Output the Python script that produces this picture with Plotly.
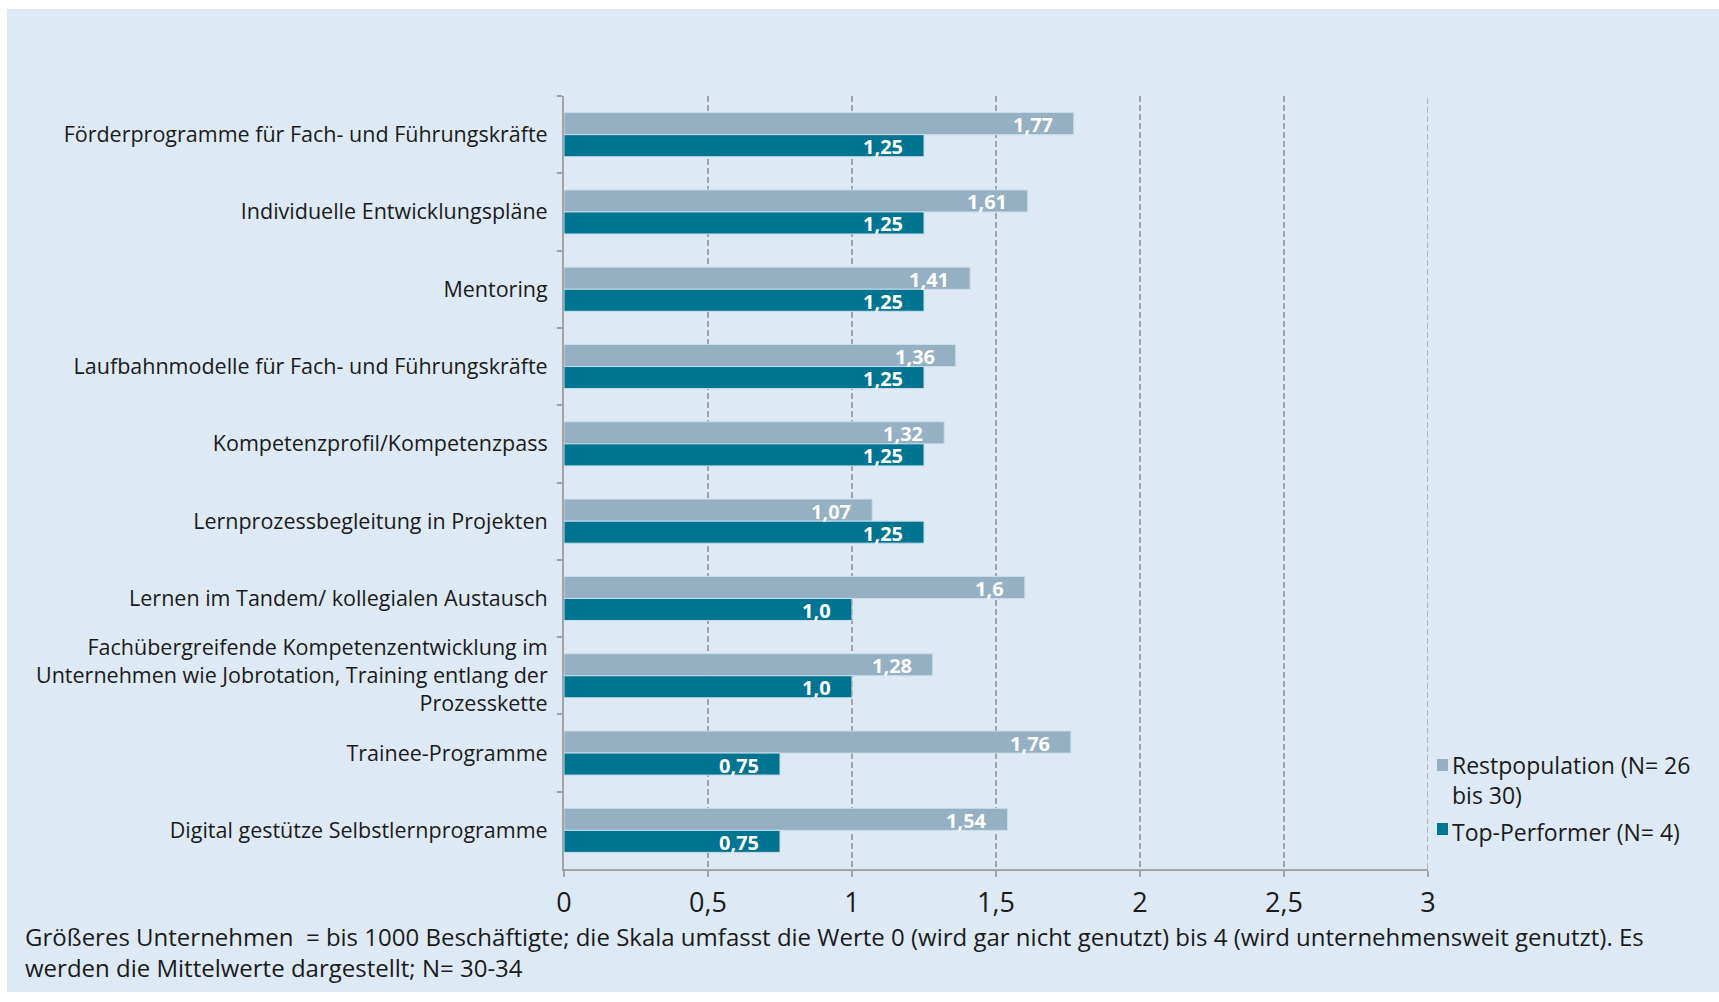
import plotly.graph_objects as go

# Maßnahmen der Kompetenzentwicklung (von oben nach unten)
categories = [
    "Förderprogramme für Fach- und Führungskräfte",
    "Individuelle Entwicklungspläne",
    "Mentoring",
    "Laufbahnmodelle für Fach- und Führungskräfte",
    "Kompetenzprofil/Kompetenzpass",
    "Lernprozessbegleitung in Projekten",
    "Lernen im Tandem/ kollegialen Austausch",
    "Fachübergreifende Kompetenzentwicklung im<br>Unternehmen wie Jobrotation, Training entlang der<br>Prozesskette",
    "Trainee-Programme",
    "Digital gestütze Selbstlernprogramme",
]

rest_values = [1.77, 1.61, 1.41, 1.36, 1.32, 1.07, 1.6, 1.28, 1.76, 1.54]
top_values = [1.25, 1.25, 1.25, 1.25, 1.25, 1.25, 1.0, 1.0, 0.75, 0.75]

rest_name = "Restpopulation (N= 26<br>bis 30)"
top_name = "Top-Performer (N= 4)"

x_ticks = [0, 0.5, 1, 1.5, 2, 2.5, 3]
x_ticklabels = ["0", "0,5", "1", "1,5", "2", "2,5", "3"]

footnote = (
    "Größeres Unternehmen\u00a0 = bis 1000 Beschäftigte; die Skala umfasst die Werte 0 "
    "(wird gar nicht genutzt) bis 4 (wird unternehmensweit genutzt). Es<br>"
    "werden die Mittelwerte dargestellt; N= 30-34"
)

# Farben und Schrift
BG = "#ddeaf5"
GREY = "#95b0c2"
TEAL = "#007592"
EDGE = "#c9dcea"
AXIS = "#a3a3a3"
TEXT = "#1a1a1a"
FONT = "Open Sans"

W, H = 1719, 1002
L, R, T, B = 564, 291, 96, 133
PW, PH = W - L - R, H - T - B


def px_x(p):
    """Pixel column -> paper x."""
    return (p - L) / PW


def px_y(p):
    """Pixel row -> paper y."""
    return (H - B - p) / PH


def fmt(v):
    return str(v).replace(".", ",")


fig = go.Figure()
fig.add_trace(go.Bar(
    y=categories, x=rest_values, orientation="h", name=rest_name,
    marker=dict(color=GREY, line=dict(color=EDGE, width=1)),
    showlegend=False, hoverinfo="skip",
))
fig.add_trace(go.Bar(
    y=categories, x=top_values, orientation="h", name=top_name,
    marker=dict(color=TEAL, line=dict(color=EDGE, width=1)),
    showlegend=False, hoverinfo="skip",
))

# Werte-Beschriftungen am Balkenende
annotations = []
label_font = dict(family=FONT, size=20, color="white", weight="bold")
for cat, v in zip(categories, rest_values):
    annotations.append(dict(
        x=v, y=cat, xref="x", yref="y", text=fmt(v), showarrow=False,
        xanchor="right", yanchor="middle", xshift=-19, yshift=10,
        font=label_font,
    ))
for cat, v in zip(categories, top_values):
    annotations.append(dict(
        x=v, y=cat, xref="x", yref="y", text=fmt(v), showarrow=False,
        xanchor="right", yanchor="middle", xshift=-19, yshift=-12,
        font=label_font,
    ))


def text_block(text, px, py, size):
    return dict(
        x=px_x(px), y=px_y(py), xref="paper", yref="paper", text=text,
        showarrow=False, xanchor="left", yanchor="middle", align="left",
        font=dict(family=FONT, size=size, color=TEXT),
    )


# Legende
annotations.append(text_block(rest_name, 1450, 780, 23))
annotations.append(text_block(top_name, 1450, 832, 23))

# Fußnote
annotations.append(text_block(footnote, 23, 952, 24))

shapes = [
    # Hintergrundfläche
    dict(type="rect", xref="paper", yref="paper", layer="below",
         x0=px_x(7), x1=px_x(W + 5), y0=px_y(992), y1=px_y(9),
         fillcolor=BG, line=dict(width=0)),
    # Gitterlinie am rechten Skalenende
    dict(type="line", xref="x", yref="paper", layer="below",
         x0=x_ticks[-1], x1=x_ticks[-1], y0=0, y1=1,
         line=dict(color=AXIS, width=1.5, dash="6px,3px")),
    # Legenden-Symbole
    dict(type="rect", xref="paper", yref="paper",
         x0=px_x(1437), x1=px_x(1448), y0=px_y(771), y1=px_y(759),
         fillcolor=GREY, line=dict(width=0)),
    dict(type="rect", xref="paper", yref="paper",
         x0=px_x(1437), x1=px_x(1448), y0=px_y(835), y1=px_y(823),
         fillcolor=TEAL, line=dict(width=0)),
]

fig.update_layout(
    template="none",
    width=W, height=H,
    margin=dict(l=L, r=R, t=T, b=B, autoexpand=False),
    paper_bgcolor="white",
    plot_bgcolor="rgba(0,0,0,0)",
    barmode="group",
    bargap=0.43,
    bargroupgap=0,
    font=dict(family=FONT, color=TEXT),
    annotations=annotations,
    shapes=shapes,
    showlegend=False,
)

fig.update_xaxes(
    range=[0, 3], tickvals=x_ticks, ticktext=x_ticklabels,
    showgrid=True, gridcolor=AXIS, gridwidth=1.5, griddash="6px,3px",
    zeroline=False, showline=True, linecolor=AXIS, linewidth=2,
    ticks="outside", ticklen=6, tickcolor=AXIS, tickwidth=1.5,
    tickfont=dict(family=FONT, size=27, color=TEXT),
    ticklabelstandoff=3, automargin=False,
)
fig.update_yaxes(
    autorange="reversed", type="category",
    showgrid=False, zeroline=False, showline=True, linecolor=AXIS, linewidth=2,
    ticks="outside", tickson="boundaries", ticklen=5, tickcolor=AXIS, tickwidth=1.5,
    tickfont=dict(family=FONT, size=21.5, color=TEXT),
    ticklabelstandoff=10, automargin=False,
)

fig.write_html("out.html")
